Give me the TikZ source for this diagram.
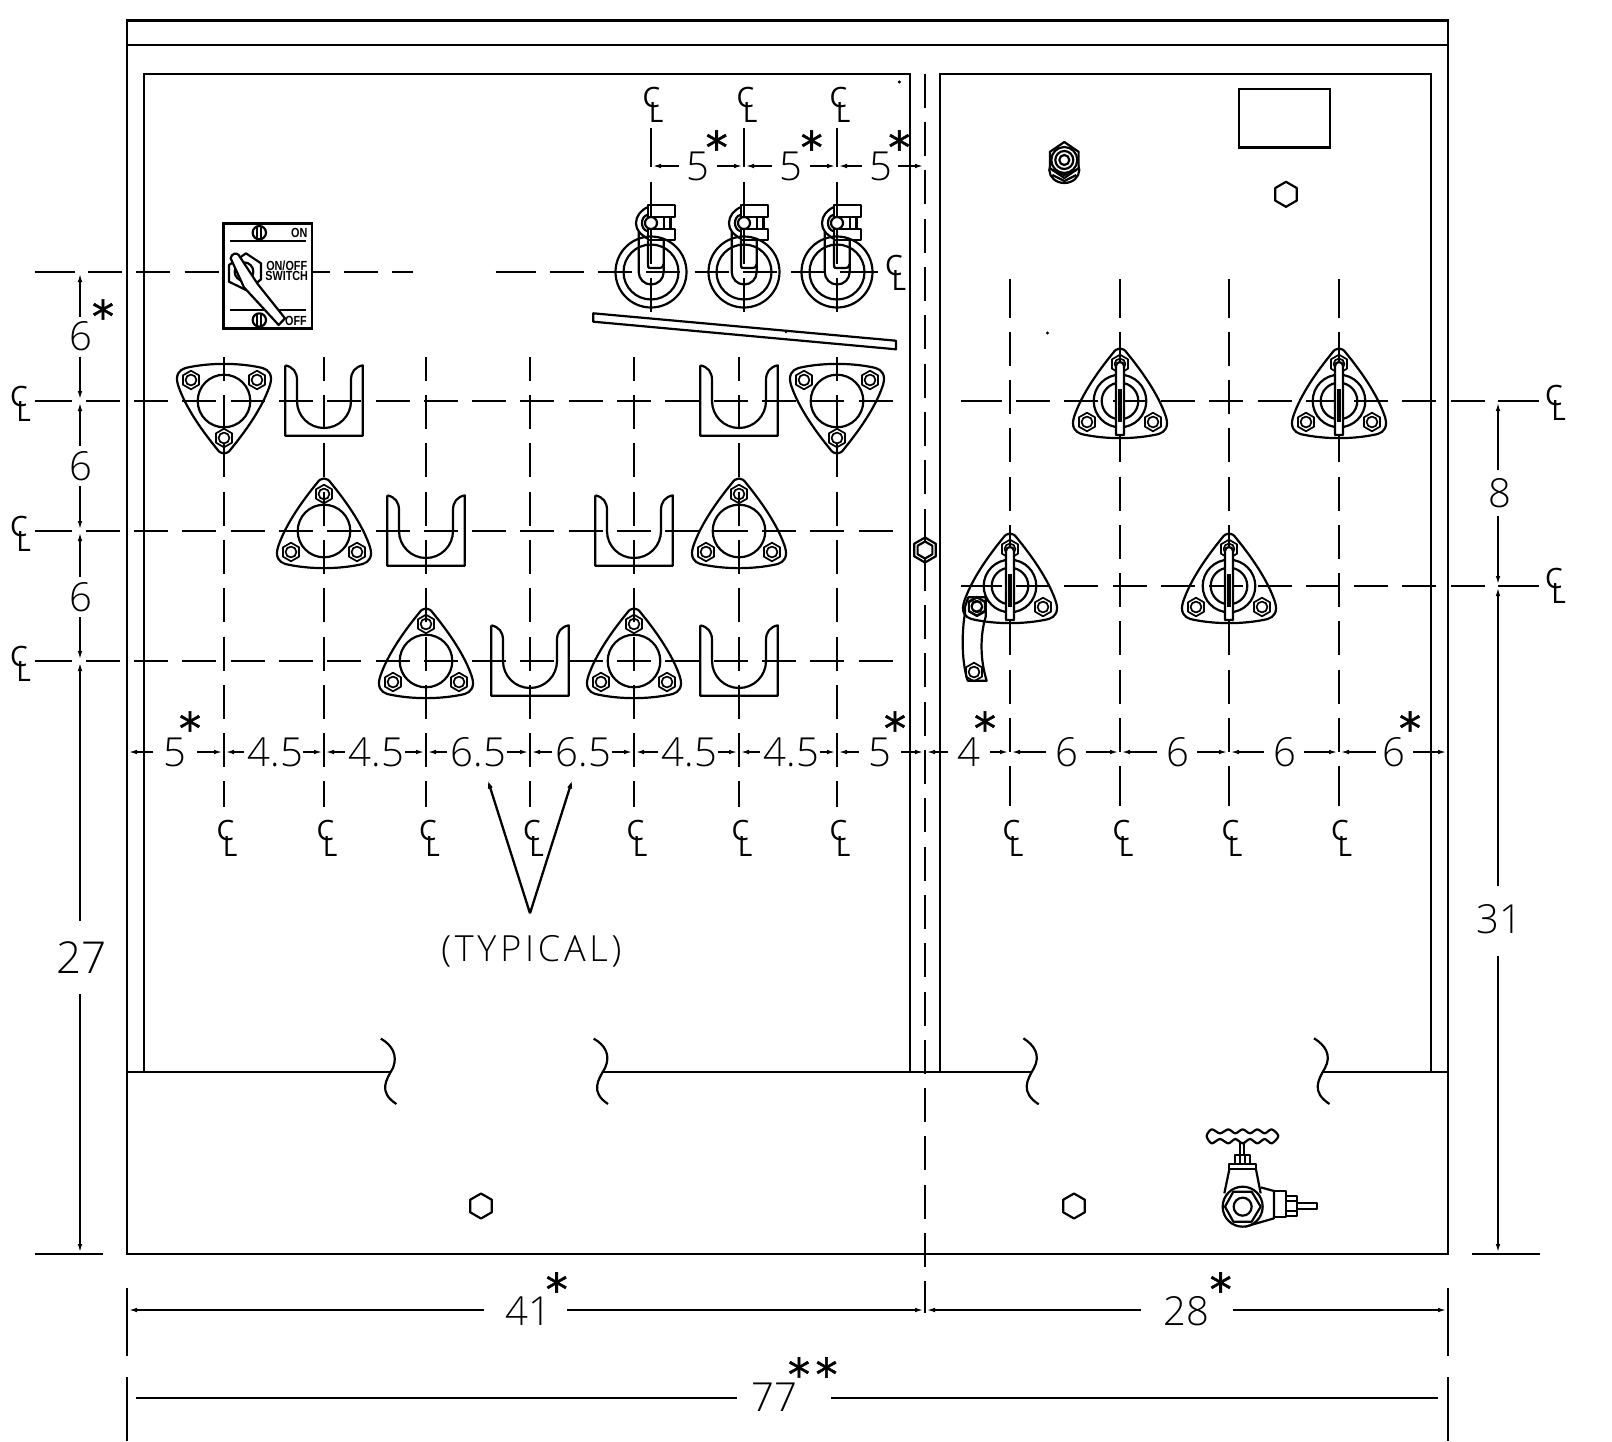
\documentclass[tikz,border=0pt]{standalone}
\usepackage{fontspec}
\usetikzlibrary{arrows.meta}
\newfontfamily\cadfont{Open Sans Light}
\newfontfamily\clfont{Open Sans}
\newfontfamily\swfont[FakeStretch=0.82]{Liberation Sans Bold}
\newfontfamily\astfont[FakeBold=1.2]{DejaVu Sans}
\newcommand{\clmark}{\makebox[0pt][l]{\raisebox{3.9pt}{C}}\hspace{3.2pt}\raisebox{-3.9pt}{L}}
\tikzset{frameline/.style = {line width = 1.25pt}}
\tikzset{symline/.style = {line width = 1.1pt, line join = round}}
\tikzset{fineline/.style = {line width = 0.85pt, line join = round}}
\tikzset{cline/.style = {line width = 1.15pt, dash pattern = on 17pt off 7.15pt}}
\tikzset{stubline/.style = {line width = 1.15pt}}
\tikzset{dimline/.style = {line width = 0.95pt, -{Latex[length=5pt,width=2.2pt]}}}
\tikzset{dimtext/.style = {inner sep = 0, xshift = 0.7pt, font = \cadfont\fontsize{20}{20}\selectfont}}
\tikzset{cltext/.style = {inner sep = 0, font = \clfont\fontsize{14}{14}\selectfont}}
\tikzset{astmark/.style = {inner sep = 0, yshift = -2.4pt, font = \astfont\fontsize{22}{22}\selectfont}}
\tikzset{swtext/.style = {inner sep = 0, font = \swfont\fontsize{6.6}{6.6}\selectfont}}
\tikzset{pics/hexring/.style = {code = {
      \draw [symline] (30:#1) -- (90:#1) -- (150:#1) -- (210:#1) -- (270:#1) -- (330:#1) -- cycle;}}}
\tikzset{pics/nut/.style = {code = {
      \draw [fineline] (30:9.3) -- (90:9.3) -- (150:9.3) -- (210:9.3) -- (270:9.3) -- (330:9.3) -- cycle;
      \draw [fineline] (0, 0) circle [radius = 5.4];}}}
\tikzset{pics/mount/.style = {code = {
      \draw [symline] (-38.7, -33) .. controls (-15, -38.5) and (15, -38.5) .. (38.7, -33)
        .. controls (45, -31) and (49, -26) .. (46, -16) .. controls (38, 8) and (20, 32) .. (7, 48)
        .. controls (3, 54) and (-3, 54) .. (-7, 48) .. controls (-20, 32) and (-38, 8) .. (-46, -16)
        .. controls (-49, -26) and (-45, -31) .. (-38.7, -33) -- cycle;
      \draw [symline] (0, 0) circle [radius = 26.3];
      \pic at (-33, -21) {nut};
      \pic at (33, -21) {nut};
      \pic at (0, 37) {nut};}}}
\tikzset{pics/knob/.style = {code = {
      \draw [symline] (0, 0) circle [radius = 18.3];
      \draw [symline, fill = white] (-4, 34) -- (-4, -35) arc (180:360:4) -- (4, 34) -- cycle;
      \draw [symline] (-1, -12) -- (-1, 21);
      \draw [symline] (1, -12) -- (1, 21);}}}
\tikzset{pics/holder/.style = {code = {
      \draw [symline] (-38.7, -35.7) -- (-38.7, 34.7) -- (38.7, 34.7) -- (38.7, -35.7)
        .. controls (31, -34) and (27, -29) .. (27, -21) -- (27, 0) arc (0:180:27) -- (-27, -21)
        .. controls (-27, -29) and (-31, -34) .. (-38.7, -35.7);}}}
\tikzset{pics/toggle/.style = {code = {
      \draw [symline] (0, 0) circle [radius = 35.5];
      \draw [symline] (0, 0) circle [radius = 27.5];
      \draw [symline] (-12.3, -40) -- (-12.3, 0) arc (180:0:12.5) -- (12.7, -31.7);
      \draw [symline] (-3, -31.7) -- (-3, -7) .. controls (-3, -4) .. (0, -4) -- (8, -4) .. controls (11, -4) .. (12.7, -8);
      \draw [symline] (-3, -67.3) rectangle (24.3, -55);
      \draw [symline] (-3, -43) rectangle (24.3, -31.7);
      \draw [symline] (12.7, -55) -- (12.7, -43);
      \draw [symline] (19.5, -55) -- (19.5, -43);
      \draw [symline] (0, -49) circle [radius = 6];
      \draw [symline] (-3, -65) .. controls (-10, -62) and (-15, -56) .. (-15, -49) .. controls (-15, -42) and (-11, -38) .. (-3, -33);
      \draw [symline] (-3, -57.5) .. controls (-8, -56) and (-9, -52) .. (-9, -49) .. controls (-9, -46) and (-8, -42) .. (-3, -40.5);}}}

\begin{document}
\begin{tikzpicture}[x=0.5pt, y=-0.5pt]
      \useasboundingbox (0, 0) rectangle (1612, 1441);

      % cabinet
      \draw [frameline] (127, 20.5) rectangle (1448, 1254);
      \draw [frameline] (127, 45) -- (1448, 45);
      \draw [frameline] (144, 1072) -- (144, 74) -- (910, 74) -- (910, 1072);
      \draw [frameline] (940, 1072) -- (940, 74) -- (1431, 74) -- (1431, 1072);
      \draw [frameline] (127, 1072) -- (390.6, 1072);
      \draw [frameline] (602.7, 1072) -- (1031.8, 1072);
      \draw [frameline] (1323, 1072) -- (1448, 1072);
      \draw [symline] (380.8, 1038.6) .. controls (392, 1045) and (398, 1055) .. (393, 1068) .. controls (386, 1080) and (378, 1092) .. (396.4, 1104);
      \draw [symline] (593.7, 1038.6) .. controls (605, 1045) and (611, 1055) .. (605, 1068) .. controls (598, 1080) and (590, 1092) .. (608, 1104);
      \draw [symline] (1023.4, 1038.3) .. controls (1034, 1045) and (1041, 1055) .. (1034, 1068) .. controls (1027, 1080) and (1020, 1092) .. (1038.7, 1104.3);
      \draw [symline] (1314, 1038.3) .. controls (1325, 1045) and (1332, 1055) .. (1325, 1068) .. controls (1318, 1080) and (1311, 1092) .. (1329.5, 1104);

      % centre lines
      \foreach \y in {401, 531, 661} {
        \draw [stubline] (34.7, \y) -- (71.7, \y);
        \draw [cline] (85.7, \y) -- (893.5, \y);
      }
      \draw [stubline] (34.7, 272) -- (75, 272);
      \draw [cline] (88, 272) -- (223.3, 272);
      \draw [cline, dash phase = 8.15pt] (312, 272) -- (413, 272);
      \draw [stubline] (495.5, 272) -- (536, 272);
      \draw [cline] (549.7, 272) -- (826, 272);
      \draw [stubline] (840, 272) -- (878, 272);
      \foreach \y in {401, 586} {
        \draw [stubline] (960.7, \y) -- (1002.3, \y);
        \draw [cline] (1016, \y) -- (1484.5, \y);
        \draw [stubline] (1498.3, \y) -- (1539.3, \y);
      }
      \foreach \x in {224, 324, 426, 530, 634, 739, 837} {
        \draw [cline, dash phase = 5.15pt] (\x, 357) -- (\x, 807);
      }
      \foreach \x in {1010, 1120, 1229, 1339} {
        \draw [stubline] (\x, 279) -- (\x, 317.5);
        \draw [cline] (\x, 331.6) -- (\x, 801);
        \draw [stubline] (\x, 767) -- (\x, 806);
      }
      \foreach \x in {651, 744, 837} {
        \draw [stubline] (\x, 128) -- (\x, 167);
        \draw [cline] (\x, 181.7) -- (\x, 315);
      }
      \draw [cline] (925, 73.8) -- (925, 1313);

      % centre line marks
      \foreach \x/\y/\n in {20.5/404/a, 20.5/534/b, 20.5/664/c, 1555.5/403/d, 1555.5/586/e,
                            653/105/f, 747/105/g, 840/105/h, 895.7/273/i,
                            227/838.5/j, 327/838.5/k, 429.5/838.5/l, 533.5/838.5/m, 637/838.5/n, 742/838.5/o, 840/838.5/p,
                            1013/838.5/q, 1123/838.5/r, 1232/838.5/s, 1341.7/838.5/t} {
        \node [cltext] (cl\n) at (\x, \y) {\clmark};
      }

      % left panel
      \foreach \x/\y in {224/401, 837/401} {
        \pic at (\x, \y) {mount};
      }
      \foreach \x/\y in {324/531, 739/531, 426/661, 634/661} {
        \pic [rotate = 180] at (\x, \y) {mount};
      }
      \foreach \x/\y in {324/401, 739/401, 426/531, 634/531, 530/661, 739/661} {
        \pic at (\x, \y) {holder};
      }
      \foreach \x in {651, 744, 837} {
        \pic at (\x, 272) {toggle};
      }
      \draw [symline] (593.3, 313.3) -- (896, 340.7) -- (896, 349.3) -- (593.3, 321.7) -- cycle;
      \fill (899.3, 82) circle [radius = 1.7];
      \fill (1047.5, 333) circle [radius = 1.7];
      \fill (786, 332) circle [radius = 1.3];

      % switch
      \draw [frameline] (223.3, 223.3) rectangle (312, 328.3);
      \begin{scope}[shift = {(160, 200)}, scale = 1/3]
        \draw [symline] (210, 124) -- (437, 124);
        \draw [symline] (210, 330) -- (437, 330);
        \draw [symline] (298, 98) circle [radius = 20];
        \draw [symline] (292, 80) -- (292, 116);
        \draw [symline] (304, 80) -- (304, 116);
        \draw [symline] (298, 360) circle [radius = 20];
        \draw [symline] (292, 342) -- (292, 378);
        \draw [symline] (304, 342) -- (304, 378);
        \draw [symline] (207, 195) -- (258, 160) -- (303, 190) -- (303, 238) -- (262, 272) -- (207, 245) -- cycle;
        \draw [symline] (252, 215) circle [radius = 28];
        \draw [symline, fill = white] (212, 175) .. controls (214, 160) and (230, 157) .. (236, 165) -- (293, 252) -- (375, 355) -- (356, 375) -- (252, 262) -- cycle;
      \end{scope}
      \node [swtext] (swon) at (299.3, 233.3) {ON};
      \node [swtext] (swlabela) at (286.7, 265.7) {ON/OFF};
      \node [swtext] (swlabelb) at (286.7, 276) {SWITCH};
      \node [swtext] (swoff) at (296, 320.7) {OFF};

      % right panel
      \foreach \x/\y in {1120/401, 1339/401, 1010/586, 1229/586} {
        \pic [rotate = 180] at (\x, \y) {mount};
        \pic at (\x, \y) {knob};
      }
      \draw [symline] (965, 613) .. controls (962, 630) and (961, 660) .. (967.7, 680.7) -- (986.7, 680.7)
        .. controls (980, 660) and (980, 635) .. (985.7, 616.7) -- (985.7, 597.3) -- (968.3, 597.3) -- (965, 606.7) -- cycle;
      \pic at (976.7, 606) {nut};
      \pic at (974, 672) {nut};
      \draw [frameline] (1239, 89) rectangle (1330, 147.3);
      \pic at (1286, 194.3) {hexring = 12.5};
      % gland
      \begin{scope}[shift = {(1064.3, 160)}]
        \draw [symline] (0, 10) ellipse [x radius = 15, y radius = 13];
        \draw [symline, fill = white] (30:16.5) -- (90:18) -- (150:16.5) -- (210:16.5) -- (270:18) -- (330:16.5) -- cycle;
        \draw [symline] (0, 0) circle [radius = 5];
        \draw [symline] (0, 0) circle [radius = 9];
        \draw [symline] (0, 0) circle [radius = 13];
        \draw [symline] (-12, 10) -- (0, 15) -- (12, 10);
        \draw [symline] (-12, 15) -- (0, 21) -- (12, 15);
      \end{scope}

      % lower panel
      \pic at (925, 550) {hexring = 12.5};
      \pic at (925, 550) {hexring = 8.5};
      \pic at (481, 1206) {hexring = 12.5};
      \pic at (1074, 1206) {hexring = 12.5};
      \begin{scope}[shift = {(1170, 1110)}, scale = 1/3]
        \draw [symline] plot [smooth cycle] coordinates {(125,58) (150,70) (175,58) (196,70) (218,58) (240,70) (262,58) (284,70) (305,58) (325,78) (305,100) (284,87) (262,100) (240,87) (218,100) (196,87) (175,100) (150,87) (125,100) (110,78)};
        \draw [symline] (210, 97) -- (210, 135);
        \draw [symline] (222, 97) -- (222, 135);
        \draw [symline] (195, 135) rectangle (240, 162);
        \draw [symline] (210, 135) -- (210, 162);
        \draw [symline] (225, 135) -- (225, 162);
        \draw [symline] (178, 162) rectangle (258, 178);
        \draw [symline] (178, 178) -- (163, 250);
        \draw [symline] (258, 178) -- (272, 250);
        \draw [symline] (272, 232) -- (312, 243) -- (312, 325) -- (225, 350);
        \draw [symline] (312, 243) rectangle (348, 322);
        \draw [symline] (348, 258) rectangle (382, 318);
        \draw [symline] (348, 272) -- (382, 272);
        \draw [symline] (348, 304) -- (382, 304);
        \draw [symline] (382, 280) rectangle (440, 297);
        \draw [symline, fill = white] (218, 290) circle [radius = 60];
        \draw [symline] (165, 290) -- (190, 245) -- (245, 245) -- (272, 290) -- (245, 335) -- (190, 335) -- cycle;
        \draw [symline] (218, 290) circle [radius = 27];
      \end{scope}

      % dimensions along the panel
      \foreach \xa/\xb/\xm/\lab/\gapl/\gapr [count = \i] in {127/224/173.3/5/20/23.5, 224/324/274/4.5/30/29, 324/426/375/4.5/30/30,
          426/530/477/6.5/30/30, 530/634/582/6.5/30/30, 634/739/688/4.5/30/30, 739/837/790/4.5/30/30,
          837/925/879/5/20/22, 925/1010/968/4/20/22, 1010/1120/1066/6/20/20, 1120/1229/1177/6/20/20,
          1229/1339/1284/6/20/20, 1339/1448/1393/6/17/20} {
        \node [dimtext] (rowdim\i) at (\xm, 752.5) {\lab};
        \draw [dimline] (\xm-\gapl, 752) -- (\xa, 752);
        \draw [dimline] (\xm+\gapr, 752) -- (\xb, 752);
      }
      \foreach \xa/\xb/\xm/\gapr [count = \i] in {651/744/696.7/20, 744/837/790/20, 837/925/880/18} {
        \node [dimtext] (topdim\i) at (\xm, 166.5) {5};
        \draw [dimline] (\xm-18, 166) -- (\xa, 166);
        \draw [dimline] (\xm+\gapr, 166) -- (\xb, 166);
      }
      % dimensions at the left
      \foreach \ya/\yb/\ym [count = \i] in {272/401/336.6, 401/531/465.8, 531/661/597} {
        \node [dimtext] (leftdim\i) at (80, \ym) {6};
        \draw [dimline] (80, \ym-20) -- (80, \ya);
        \draw [dimline] (80, \ym+20) -- (80, \yb);
      }
      \node [dimtext, font = \cadfont\fontsize{22}{22}\selectfont] (leftdimb) at (80, 957.6) {27};
      \draw [dimline] (80, 921) -- (80, 661);
      \draw [dimline] (80, 994) -- (80, 1254);
      \draw [frameline] (34.8, 1254) -- (102.7, 1254);
      % dimensions at the right
      \node [dimtext] (rightdima) at (1498, 493) {8};
      \draw [dimline] (1498, 470) -- (1498, 401);
      \draw [dimline] (1498, 516.4) -- (1498, 586);
      \node [dimtext] (rightdimb) at (1498, 919) {31};
      \draw [dimline] (1498, 886) -- (1498, 586);
      \draw [dimline] (1498, 956) -- (1498, 1254);
      \draw [frameline] (1472, 1254) -- (1540, 1254);
      % dimensions below
      \node [dimtext] (basedima) at (527, 1311) {41};
      \draw [dimline] (484, 1310) -- (127, 1310);
      \draw [dimline] (567, 1310) -- (925, 1310);
      \node [dimtext] (basedimb) at (1185, 1311) {28};
      \draw [dimline] (1141, 1310) -- (925, 1310);
      \draw [dimline] (1233, 1310) -- (1448, 1310);
      \node [dimtext] (basedimc) at (773, 1397) {77};
      \draw [frameline] (136, 1398) -- (737, 1398);
      \draw [frameline] (831, 1398) -- (1438, 1398);
      \foreach \x in {127, 1448} {
        \draw [frameline] (\x, 1288) -- (\x, 1356);
        \draw [frameline] (\x, 1377) -- (\x, 1441);
      }
      \foreach \x/\y [count = \i] in {103/311, 190/723, 895/723, 985/723, 1410/723, 716.7/142, 811.7/142, 899.3/142, 556.7/1284, 1220.7/1284, 799/1369, 826.5/1369} {
        \node [astmark] (ast\i) at (\x, \y) {*};
      }
      % note
      \node [dimtext, font = \cadfont\addfontfeature{LetterSpace = 10.5}\fontsize{18}{18}\selectfont] (typical) at (530, 951.5) {(TYPICAL)};
      \coordinate (typicala) at (486.7, 776.7);
      \coordinate (typicalb) at (573.3, 776.7);
      \coordinate (typicalc) at (530, 913.3);
      \draw [line width = 1.15pt, -{Latex[length=6pt,width=2.4pt]}] (typicalc) -- (typicala);
      \draw [line width = 1.15pt, -{Latex[length=6pt,width=2.4pt]}] (typicalc) -- (typicalb);
    \end{tikzpicture}
\end{document}
